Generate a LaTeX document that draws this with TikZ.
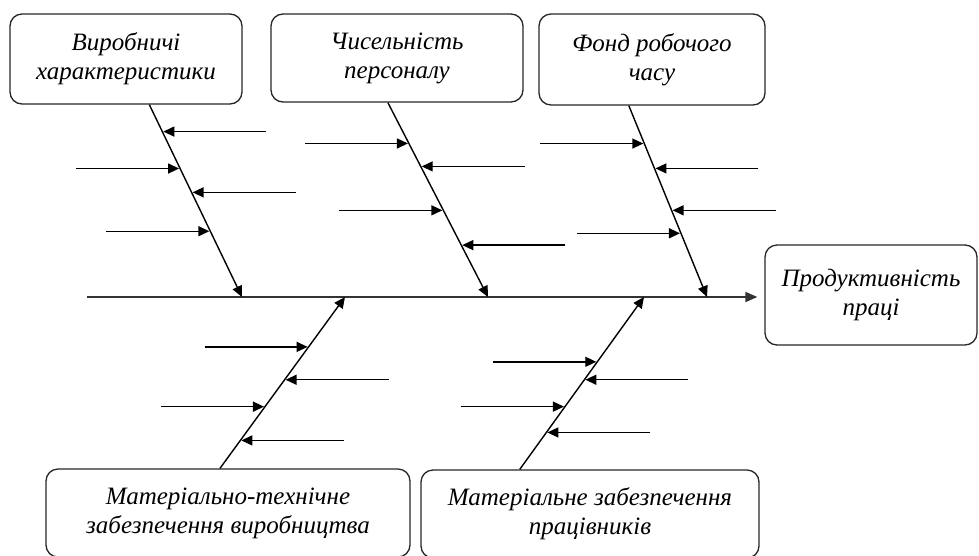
\documentclass[tikz,border=0pt]{standalone}
\usepackage{fontspec}
\setmainfont{Liberation Serif}
\usetikzlibrary{arrows.meta,calc}
\tikzset{
  factor/.style={draw=black!85, line width=1.3pt, rounded corners=12pt, align=center,
    font=\fontsize{25}{29}\selectfont\itshape, inner sep=2pt},
  bone/.style={line width=1.4pt, -{Triangle[length=11pt,width=10pt]}},
  twig/.style={line width=1.4pt, -{Triangle[length=11pt,width=10pt]}, shorten >=1pt},
  spine/.style={line width=1.8pt, draw=black!80, -{Triangle[length=12pt,width=10pt]}, shorten >=7pt}
}
\begin{document}
\begin{tikzpicture}[x=1pt,y=-1pt]
    \useasboundingbox (0,0) rectangle (979,555);
    \clip (0,0) rectangle (979,555);
    %% factor boxes
    \node[factor, minimum width=232, minimum height=90] (vyrob) at (126,59) {Виробничі\\характеристики};
    \node[factor, minimum width=252, minimum height=88] (chys) at (397,58) {Чисельність\\персоналу};
    \node[factor, minimum width=226, minimum height=91] (fond) at (652,59.5) {Фонд робочого\\часу};
    \node[factor, minimum width=212, minimum height=100] (prod) at (871,295) {Продуктивність\\праці};
    \node[factor, minimum width=364, minimum height=88] (mtz) at (228,513) {Матеріально-технічне\\забезпечення виробництва};
    \node[factor, minimum width=338, minimum height=88] (mzp) at (590,514) {Матеріальне забезпечення\\працівників};
    %% spine
    \coordinate (tail) at (87,297);
    \draw[spine] (tail) -- (tail -| prod.west);
    %% bones
    \coordinate (b1) at ($(vyrob.south west)!0.6!(vyrob.south east)$);
    \coordinate (b2) at ($(chys.south west)!0.464!(chys.south east)$);
    \coordinate (b3) at ($(fond.south west)!0.398!(fond.south east)$);
    \coordinate (b4) at ($(mtz.north west)!0.478!(mtz.north east)$);
    \coordinate (b5) at ($(mzp.north west)!0.293!(mzp.north east)$);
    \coordinate (e1) at (242,297);
    \coordinate (e2) at (488,297);
    \coordinate (e3) at (707,297);
    \coordinate (e4) at (345,297);
    \coordinate (e5) at (644,297);
    \foreach \i in {1,...,5}
        \draw[bone] (b\i) -- (e\i);
    %% small causes
    \foreach \t/\s in {0.14/1,0.332/-1,0.456/1,0.658/-1} {
        \coordinate (tip) at ($(b1)!\t!(e1)$);
        \draw[twig] ($(tip)+(\s*104,0)$) -- (tip);
    }
    \foreach \t/\s in {0.21/-1,0.328/1,0.554/-1,0.733/1} {
        \coordinate (tip) at ($(b2)!\t!(e2)$);
        \draw[twig] ($(tip)+(\s*104,0)$) -- (tip);
    }
    \foreach \t/\s in {0.198/-1,0.328/1,0.547/1,0.667/-1} {
        \coordinate (tip) at ($(b3)!\t!(e3)$);
        \draw[twig] ($(tip)+(\s*104,0)$) -- (tip);
    }
    \foreach \t/\s in {0.709/-1,0.517/1,0.36/-1,0.163/1} {
        \coordinate (tip) at ($(b4)!\t!(e4)$);
        \draw[twig] ($(tip)+(\s*104,0)$) -- (tip);
    }
    \foreach \t/\s in {0.624/-1,0.52/1,0.364/-1,0.214/1} {
        \coordinate (tip) at ($(b5)!\t!(e5)$);
        \draw[twig] ($(tip)+(\s*104,0)$) -- (tip);
    }
\end{tikzpicture}
\end{document}
